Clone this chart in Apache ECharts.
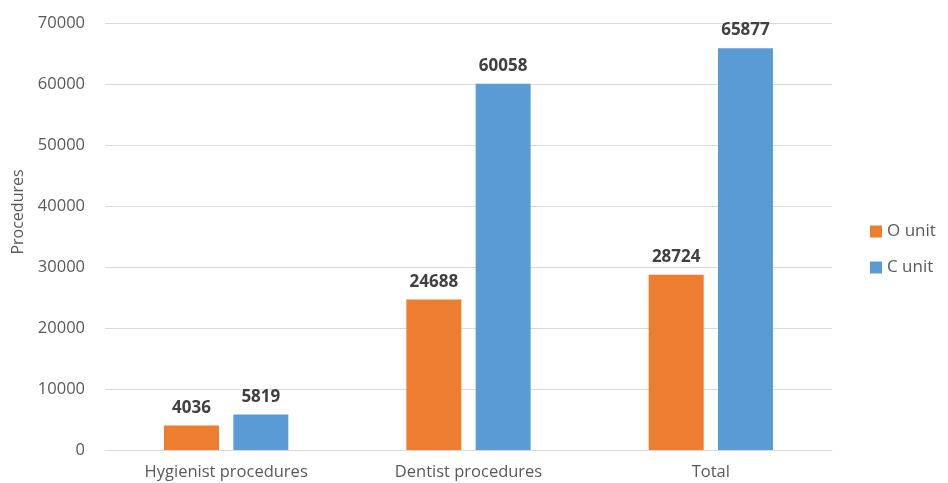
<!DOCTYPE html>
<html>
<head>
<meta charset="utf-8">
<script src="https://cdn.jsdelivr.net/npm/echarts@6/dist/echarts.min.js"></script>
<style>
  html, body { margin: 0; padding: 0; background: #fff; }
  #chart { width: 948px; height: 483px; }
</style>
</head>
<body>
<div id="chart"></div>
<script>
var categories = ['Hygienist procedures', 'Dentist procedures', 'Total'];
var oUnit = [4036, 24688, 28724];
var cUnit = [5819, 60058, 65877];
var yTicks = [0, 10000, 20000, 30000, 40000, 50000, 60000, 70000];

var chart = echarts.init(document.getElementById('chart'));

var labelStyle = {
  show: true,
  position: 'top',
  distance: 9,
  fontFamily: 'Open Sans',
  fontWeight: 'bold',
  fontSize: 17,
  color: '#404040'
};

var option = {
  animation: false,
  textStyle: { fontFamily: 'Open Sans' },
  legend: {
    orient: 'vertical',
    left: 865,
    top: 218,
    itemWidth: 12,
    itemHeight: 12,
    itemGap: 19,
    icon: 'rect',
    textStyle: { fontSize: 17, color: '#595959', fontFamily: 'Open Sans' },
    data: ['O unit', 'C unit']
  },
  graphic: [{
    type: 'text',
    x: 18,
    y: 212,
    rotation: Math.PI / 2,
    style: {
      text: 'Procedures',
      fontSize: 16,
      fontFamily: 'Open Sans',
      fill: '#595959',
      align: 'center',
      verticalAlign: 'middle'
    }
  }],
  grid: { left: 105, top: 23, width: 727, height: 427, containLabel: false },
  xAxis: {
    type: 'category',
    data: categories,
    axisLine: { show: true, lineStyle: { color: '#d9d9d9', width: 1 } },
    axisTick: { show: false },
    axisLabel: { fontSize: 16.5, color: '#595959', margin: 14 }
  },
  yAxis: {
    type: 'value',
    min: yTicks[0],
    max: yTicks[yTicks.length - 1],
    interval: 10000,
    axisLine: { show: false },
    axisTick: { show: false },
    axisLabel: {
      fontSize: 16.5,
      color: '#595959',
      margin: 20,
      formatter: function (v) { return String(v); }
    },
    splitLine: { lineStyle: { color: '#d9d9d9', width: 1 } }
  },
  series: [
    {
      name: 'O unit',
      type: 'bar',
      data: oUnit,
      barWidth: 55,
      barGap: '26%',
      itemStyle: { color: '#ed7d31' },
      label: labelStyle
    },
    {
      name: 'C unit',
      type: 'bar',
      data: cUnit,
      barWidth: 55,
      barGap: '26%',
      itemStyle: { color: '#5b9bd5' },
      label: labelStyle
    }
  ]
};

chart.setOption(option);
window.addEventListener('resize', chart.resize);
</script>
</body>
</html>
